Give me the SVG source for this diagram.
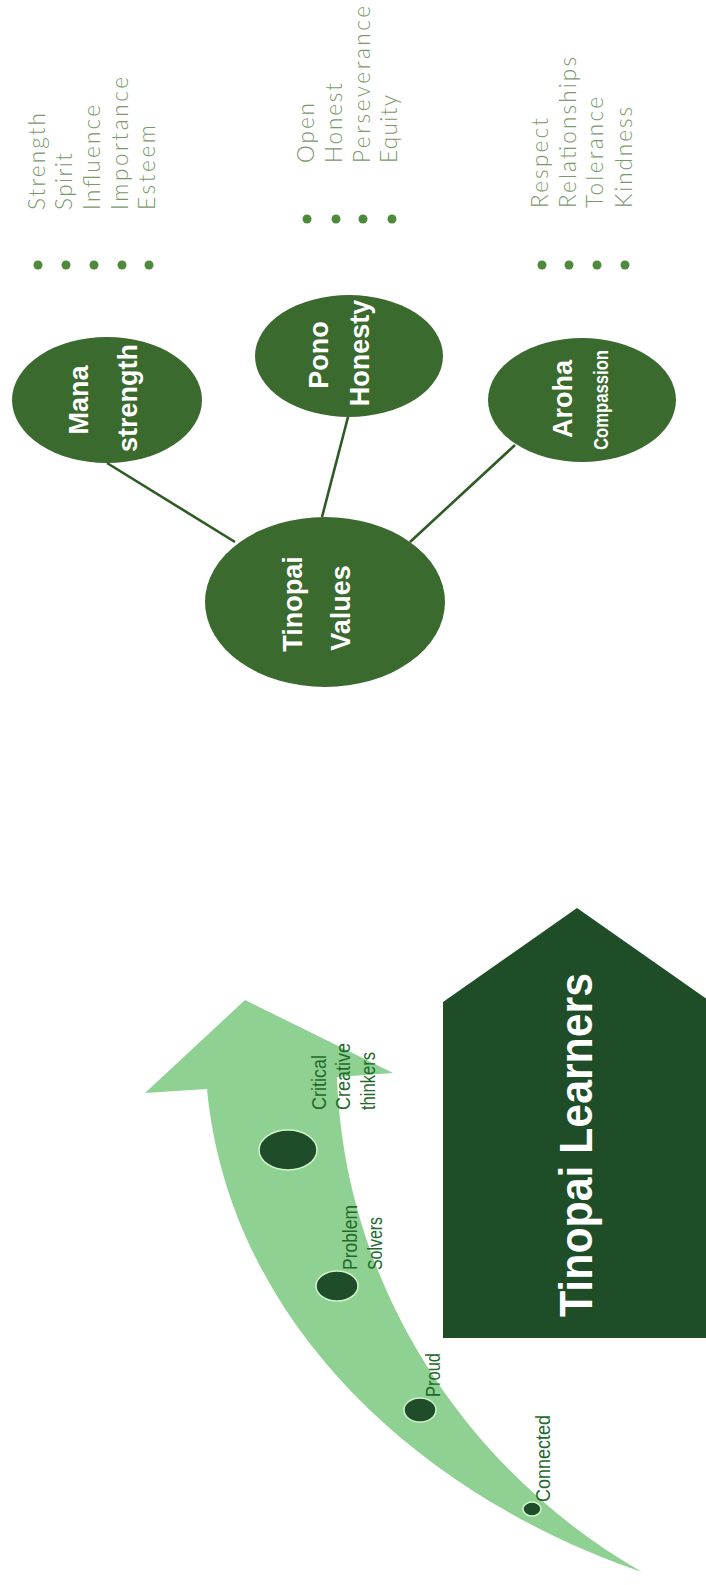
<svg xmlns="http://www.w3.org/2000/svg" width="706" height="1585" viewBox="0 0 706 1585">
<style>
.val{fill:#3a6a2e}
.vt{font-family:"Liberation Sans",Arial,sans-serif;font-weight:bold;font-size:27px;fill:#ffffff;text-anchor:middle}
.lt{font-family:"Lato","Liberation Sans",sans-serif;font-weight:300;font-size:22.5px;fill:#789a6a}
.dot{fill:#4f8a3c}
.conn{stroke:#2e5b24;stroke-width:2.6;fill:none}
.ms{fill:#1f4d2a;stroke:#d4f5cc;stroke-width:1.5}
.at{font-family:"Liberation Sans",Arial,sans-serif;font-size:21px;fill:#1f6a2a}
</style>
<rect width="706" height="1585" fill="#ffffff"/>

<g id="connectors">
<line class="conn" x1="107" y1="463" x2="235" y2="542"/>
<line class="conn" x1="348" y1="417" x2="322" y2="517"/>
<line class="conn" x1="515" y1="445" x2="410" y2="542"/>
</g>

<g id="tinopai-values">
<ellipse class="val" cx="325" cy="602" rx="120" ry="85"/>
<text class="vt" transform="translate(302,604) rotate(-90)">Tinopai</text>
<text class="vt" transform="translate(350,608) rotate(-90)">Values</text>
</g>

<g id="mana">
<ellipse class="val" cx="107" cy="400" rx="95" ry="63"/>
<text class="vt" transform="translate(88,400) rotate(-90)">Mana</text>
<text class="vt" transform="translate(137,398) rotate(-90)">strength</text>
</g>

<g id="pono">
<ellipse class="val" cx="349" cy="356" rx="94" ry="61"/>
<text class="vt" transform="translate(328,355) rotate(-90)">Pono</text>
<text class="vt" transform="translate(369,353) rotate(-90)">Honesty</text>
</g>

<g id="aroha">
<ellipse class="val" cx="582" cy="400" rx="94" ry="62"/>
<text class="vt" transform="translate(572,399) rotate(-90)">Aroha</text>
<text class="vt" style="font-size:20px" textLength="100" lengthAdjust="spacingAndGlyphs" transform="translate(608,400) rotate(-90)">Compassion</text>
</g>

<g id="mana-list">
<circle class="dot" cx="38" cy="265" r="4.5"/>
<circle class="dot" cx="66" cy="265" r="4.5"/>
<circle class="dot" cx="94" cy="265" r="4.5"/>
<circle class="dot" cx="122" cy="265" r="4.5"/>
<circle class="dot" cx="149" cy="265" r="4.5"/>
<text class="lt" textLength="97" transform="translate(45,210) rotate(-90)">Strength</text>
<text class="lt" textLength="57" transform="translate(72,210) rotate(-90)">Spirit</text>
<text class="lt" textLength="105" transform="translate(100,210) rotate(-90)">Influence</text>
<text class="lt" textLength="133" transform="translate(128,210) rotate(-90)">Importance</text>
<text class="lt" textLength="85" transform="translate(155,210) rotate(-90)">Esteem</text>
</g>

<g id="pono-list">
<circle class="dot" cx="307" cy="219" r="4.5"/>
<circle class="dot" cx="336" cy="219" r="4.5"/>
<circle class="dot" cx="363" cy="219" r="4.5"/>
<circle class="dot" cx="392" cy="219" r="4.5"/>
<text class="lt" textLength="60" transform="translate(314,163) rotate(-90)">Open</text>
<text class="lt" textLength="80" transform="translate(342,163) rotate(-90)">Honest</text>
<text class="lt" textLength="157" transform="translate(370,163) rotate(-90)">Perseverance</text>
<text class="lt" textLength="68" transform="translate(397,163) rotate(-90)">Equity</text>
</g>

<g id="aroha-list">
<circle class="dot" cx="542" cy="265" r="4.5"/>
<circle class="dot" cx="569" cy="265" r="4.5"/>
<circle class="dot" cx="597" cy="265" r="4.5"/>
<circle class="dot" cx="625" cy="265" r="4.5"/>
<text class="lt" textLength="90" transform="translate(548,208) rotate(-90)">Respect</text>
<text class="lt" textLength="151" transform="translate(576,208) rotate(-90)">Relationships</text>
<text class="lt" textLength="111" transform="translate(603,208) rotate(-90)">Tolerance</text>
<text class="lt" textLength="101" transform="translate(632,208) rotate(-90)">Kindness</text>
</g>

<g id="tinopai-learners">
<polygon points="443,1338 443,1002 577,908 711,1002 711,1338" fill="#1e4d27"/>
<text transform="translate(592,1145) rotate(-90)" text-anchor="middle" textLength="344" lengthAdjust="spacingAndGlyphs" font-family="Liberation Sans, Arial, sans-serif" font-weight="bold" font-size="47" fill="#ffffff">Tinopai Learners</text>
</g>

<g id="growth-arrow">
<path d="M245,1000 L393,1073 L337,1077 C345,1300 480,1480 642,1572 C430,1500 230,1330 207,1089 L145,1093 Z" fill="#8fd192"/>
<g id="critical-creative-thinkers">
<ellipse class="ms" cx="288" cy="1150" rx="29" ry="20"/>
<text class="at" textLength="55" lengthAdjust="spacingAndGlyphs" transform="translate(326,1110) rotate(-90)">Critical</text>
<text class="at" textLength="67" lengthAdjust="spacingAndGlyphs" transform="translate(350,1110) rotate(-90)">Creative</text>
<text class="at" textLength="58" lengthAdjust="spacingAndGlyphs" transform="translate(375,1110) rotate(-90)">thinkers</text>
</g>
<g id="problem-solvers">
<ellipse class="ms" cx="337" cy="1286" rx="21" ry="15"/>
<text class="at" textLength="65" lengthAdjust="spacingAndGlyphs" transform="translate(357,1270) rotate(-90)">Problem</text>
<text class="at" textLength="53" lengthAdjust="spacingAndGlyphs" transform="translate(382,1270) rotate(-90)">Solvers</text>
</g>
<g id="proud">
<ellipse class="ms" cx="420" cy="1410" rx="16" ry="12"/>
<text class="at" textLength="44" lengthAdjust="spacingAndGlyphs" transform="translate(440,1397) rotate(-90)">Proud</text>
</g>
<g id="connected">
<ellipse class="ms" cx="532" cy="1509" rx="9" ry="7"/>
<text class="at" textLength="87" lengthAdjust="spacingAndGlyphs" transform="translate(550,1502) rotate(-90)">Connected</text>
</g>
</g>
</svg>
